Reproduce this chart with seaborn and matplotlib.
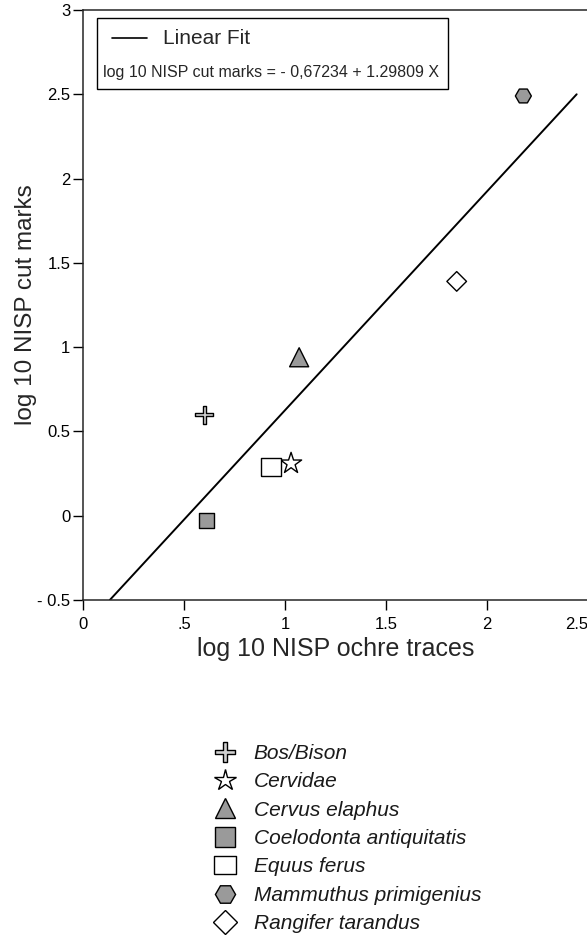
import numpy as np
import pandas as pd
import matplotlib
matplotlib.use("Agg")
import matplotlib.pyplot as plt
from matplotlib.lines import Line2D
from matplotlib.markers import MarkerStyle
from matplotlib.patches import Rectangle
import seaborn as sns

# Data
species = ["Bos/Bison", "Cervidae", "Cervus elaphus", "Coelodonta antiquitatis",
           "Equus ferus", "Mammuthus primigenius", "Rangifer tarandus"]
ochre_traces = [0.60, 1.03, 1.07, 0.61, 0.93, 2.18, 1.85]
cut_marks = [0.60, 0.31, 0.94, -0.03, 0.29, 2.49, 1.39]

fit_intercept = -0.67234
fit_slope = 1.29809
fit_y_range = [-0.5, 2.5]

x_ticks = [0, 0.5, 1, 1.5, 2, 2.5]
x_ticklabels = ["0", ".5", "1", "1.5", "2", "2.5"]
y_ticks = [-0.5, 0, 0.5, 1, 1.5, 2, 2.5, 3]
y_ticklabels = ["- 0.5", "0", "0.5", "1", "1.5", "2", "2.5", "3"]

sns.set_style("ticks")
plt.rcParams["font.family"] = ["Liberation Sans", "DejaVu Sans"]

# marker shapes
w = 0.17
plus = MarkerStyle([(-w, 1), (w, 1), (w, w), (1, w), (1, -w), (w, -w), (w, -1),
                    (-w, -1), (-w, -w), (-1, -w), (-1, w), (-w, w), (-w, 1)])
rect = MarkerStyle([(-1.15, -1), (1.15, -1), (1.15, 1), (-1.15, 1), (-1.15, -1)])
gray = "#9a9a9a"
markers = {"Bos/Bison": plus, "Cervidae": MarkerStyle("*"), "Cervus elaphus": MarkerStyle("^"),
           "Coelodonta antiquitatis": MarkerStyle("s"), "Equus ferus": rect,
           "Mammuthus primigenius": MarkerStyle("H"), "Rangifer tarandus": MarkerStyle("D")}
fills = {"Bos/Bison": "#d0d0d0", "Cervidae": "white", "Cervus elaphus": gray,
         "Coelodonta antiquitatis": gray, "Equus ferus": "white",
         "Mammuthus primigenius": gray, "Rangifer tarandus": "white"}
ms_plot = {"Bos/Bison": 13, "Cervidae": 16, "Cervus elaphus": 13.7,
           "Coelodonta antiquitatis": 10.8, "Equus ferus": 14.4,
           "Mammuthus primigenius": 11.5, "Rangifer tarandus": 10}
ms_leg = {"Bos/Bison": 14.5, "Cervidae": 16, "Cervus elaphus": 14.5,
          "Coelodonta antiquitatis": 14, "Equus ferus": 15.5,
          "Mammuthus primigenius": 14.5, "Rangifer tarandus": 12}

df = pd.DataFrame({"species": species, "ochre": ochre_traces, "cut": cut_marks})

fig = plt.figure(figsize=(5.87, 9.36), dpi=100)
ax = fig.add_axes([83 / 587, 1 - 600 / 936, 505 / 587, 590 / 936])

# linear fit
fy = np.array(fit_y_range)
fx = (fy - fit_intercept) / fit_slope
sns.lineplot(x=fx, y=fy, color="black", lw=1.4, ax=ax)

sns.scatterplot(data=df, x="ochre", y="cut", hue="species", style="species", size="species",
                palette=fills, markers=markers,
                sizes={k: v ** 2 for k, v in ms_plot.items()},
                edgecolor="black", linewidth=1, legend=False, ax=ax, zorder=3)

ax.set_xlim(0, 2.5)
ax.set_ylim(-0.5, 3)
ax.set_xticks(x_ticks)
ax.set_xticklabels(x_ticklabels)
ax.set_yticks(y_ticks)
ax.set_yticklabels(y_ticklabels)
ax.get_xticklabels()[-1].set_horizontalalignment("right")
ax.tick_params(labelsize=12, length=7, width=1, colors="black")
ax.tick_params(axis="y", pad=2)
ax.tick_params(axis="x", pad=5)
for s in ax.spines.values():
    s.set_linewidth(1.1)
ax.set_xlabel("log 10 NISP ochre traces", fontsize=18, labelpad=4)
ax.set_ylabel("log 10 NISP cut marks", fontsize=17.5, labelpad=0)

# fit legend box
fig.patches.append(Rectangle((97 / 587, 1 - 89 / 936), 351 / 587, 71 / 936,
                             transform=fig.transFigure, facecolor="white",
                             edgecolor="black", lw=1, zorder=5))
fig.lines.append(Line2D([112 / 587, 147 / 587], [1 - 38 / 936, 1 - 38 / 936],
                        transform=fig.transFigure, color="black", lw=1.2, zorder=6))
fig.text(163 / 587, 1 - 38 / 936, "Linear Fit", fontsize=15, va="center", zorder=6)
fig.text(103 / 587, 1 - 73 / 936, "log 10 NISP cut marks = - 0,67234 + 1.29809 X",
         fontsize=11.5, va="center", zorder=6)

# species legend
handles = [Line2D([], [], ls="none", marker=markers[k], markersize=ms_leg[k],
                  markerfacecolor=fills[k], markeredgecolor="black", markeredgewidth=1)
           for k in species]
leg = fig.legend(handles, species, loc="upper left", bbox_to_anchor=(208 / 587, 1 - 744 / 936),
                 frameon=False, fontsize=15, handlelength=1.6, handletextpad=0.6,
                 labelspacing=0.45, borderpad=0, borderaxespad=0)
for t in leg.get_texts():
    t.set_fontstyle("italic")
    t.set_color("#1a1a1a")

fig.savefig("out.png", dpi=100)
